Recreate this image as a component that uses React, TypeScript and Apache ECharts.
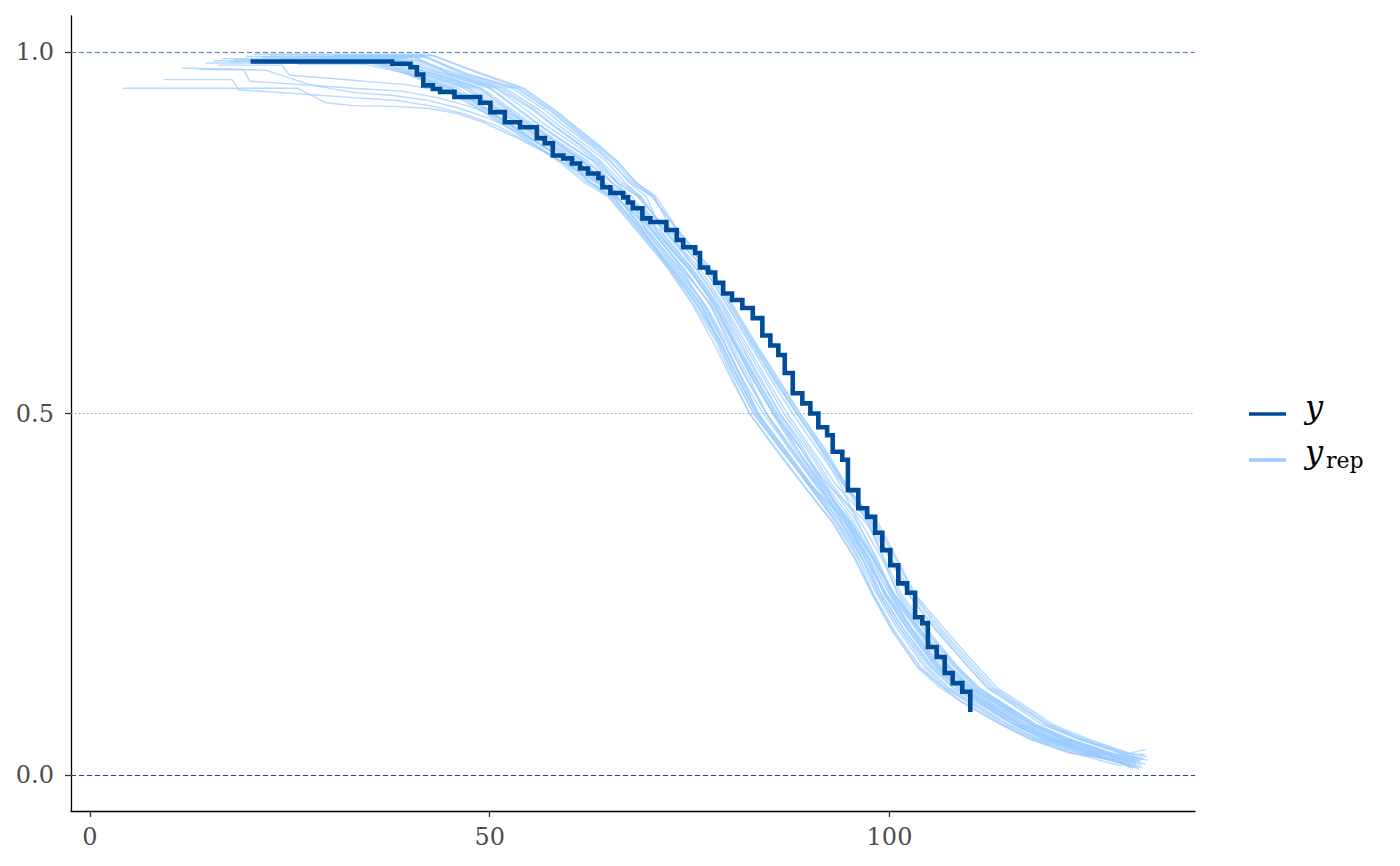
import { useEffect, useRef } from 'react';
import * as echarts from 'echarts';

// ---- data ----
const xTicks = [0, 50, 100];
const yTicks = [0, 0.5, 1];
const refLines = [1, 0.5, 0];

// observed Kaplan-Meier curve: [time, survival after the drop]
const observed: [number, number][] = [
  [20.1, 0.987], [37.8, 0.984], [40.1, 0.979], [40.9, 0.969], [41.7, 0.954], [42.9, 0.949],
  [43.8, 0.945], [45.6, 0.938], [48.8, 0.930], [50.1, 0.917], [51.9, 0.903], [53.8, 0.896],
  [55.9, 0.881], [56.9, 0.874], [57.9, 0.857], [59.2, 0.853], [60.3, 0.846], [61.3, 0.839],
  [62.3, 0.832], [63.6, 0.826], [64.1, 0.813], [65.1, 0.805], [66.7, 0.799], [67.3, 0.792],
  [67.9, 0.784], [69.1, 0.770], [70.1, 0.765], [72.1, 0.754], [73.4, 0.740], [74.2, 0.730],
  [75.7, 0.722], [76.3, 0.702], [77.3, 0.695], [78.2, 0.681], [79.2, 0.666], [80.3, 0.657],
  [81.6, 0.646], [82.9, 0.632], [84.1, 0.608], [85.1, 0.594], [86.1, 0.581], [86.9, 0.556],
  [87.9, 0.528], [89.1, 0.514], [90.1, 0.500], [91.1, 0.481], [92.2, 0.470], [92.9, 0.447],
  [94.1, 0.436], [94.8, 0.394], [96.1, 0.369], [97.2, 0.357], [98.2, 0.335], [99.1, 0.311],
  [100.1, 0.290], [101.1, 0.265], [102.2, 0.252], [103.2, 0.218], [104.1, 0.210], [104.8, 0.177],
  [105.9, 0.163], [106.9, 0.141], [107.9, 0.127], [109.1, 0.115], [110.1, 0.104], [110.1, 0.087],
];

// replicated curves: survival levels and the time each replicate passes them
const repLevels = [0.97, 0.95, 0.92, 0.9, 0.87, 0.85, 0.82, 0.8, 0.75, 0.7, 0.65, 0.6, 0.55,
  0.5, 0.45, 0.4, 0.35, 0.3, 0.25, 0.2, 0.15, 0.12, 0.1, 0.07, 0.05, 0.03];

// [first time, first survival, end of the first flat part]
const repStarts: [number, number, number][] = [
  [25.5, 0.988, 35.0], [18.0, 0.990, 36.5], [28.0, 0.987, 38.0], [21.5, 0.993, 40.5],
  [30.5, 0.995, 43.0], [23.0, 0.986, 37.5], [16.5, 0.991, 39.5], [27.0, 0.989, 35.5],
  [19.5, 0.994, 42.0], [24.5, 0.990, 39.0], [29.0, 0.992, 40.0], [14.5, 0.985, 36.0],
  [22.5, 0.996, 41.5], [26.0, 0.983, 34.5], [31.0, 0.988, 38.5], [20.5, 0.997, 42.5],
  [17.5, 0.987, 39.0], [25.0, 0.985, 35.0], [23.8, 0.991, 38.0], [28.5, 0.989, 41.0],
  [15.5, 0.988, 35.5], [26.5, 0.994, 40.5], [21.0, 0.986, 38.5], [30.0, 0.993, 42.0],
];

const repTimes: number[][] = [
  [39.5, 44.0, 48.8, 51.6, 55.8, 58.5, 61.8, 64.8, 68.6, 72.4, 75.6, 78.3, 80.3, 82.5, 85.9, 89.3, 92.8, 95.6, 97.8, 100.3, 103.4, 106.4, 109.3, 113.9, 117.4, 122.5],
  [41.0, 46.0, 50.0, 52.5, 56.8, 59.5, 62.5, 65.0, 68.8, 72.6, 75.9, 78.5, 80.6, 83.0, 86.5, 90.0, 93.5, 96.5, 98.6, 101.5, 105.0, 108.0, 111.0, 115.5, 119.0, 124.5],
  [43.0, 48.5, 52.5, 55.0, 59.0, 61.5, 64.2, 66.5, 69.9, 73.8, 76.9, 79.3, 81.5, 83.6, 86.8, 90.0, 93.2, 96.0, 98.0, 100.6, 103.8, 106.9, 109.9, 114.2, 117.9, 123.0],
  [45.5, 51.5, 55.7, 57.9, 61.6, 63.8, 66.5, 69.0, 72.0, 75.8, 78.9, 81.3, 83.8, 86.3, 89.7, 92.6, 95.9, 98.4, 100.5, 103.6, 107.2, 110.0, 113.0, 117.0, 121.0, 126.5],
  [48.8, 54.0, 58.0, 60.2, 63.6, 65.8, 68.3, 70.8, 73.8, 77.6, 80.3, 83.0, 85.8, 88.8, 91.8, 94.5, 97.8, 100.0, 102.3, 105.8, 109.8, 112.2, 115.0, 119.0, 123.5, 128.8],
  [42.2, 47.5, 51.5, 54.0, 58.2, 61.0, 63.9, 66.8, 70.4, 74.3, 77.6, 79.8, 82.1, 84.6, 87.8, 91.1, 94.5, 97.3, 99.4, 102.4, 105.8, 108.6, 111.6, 115.9, 119.7, 125.0],
  [44.4, 50.2, 53.8, 56.2, 60.2, 63.0, 65.8, 68.5, 72.6, 76.9, 79.7, 82.5, 85.3, 88.4, 91.5, 94.6, 98.2, 100.7, 103.0, 106.6, 110.6, 113.1, 115.9, 120.0, 124.2, 129.6],
  [40.4, 45.4, 49.8, 52.4, 56.7, 59.5, 62.6, 65.6, 70.7, 74.8, 78.2, 80.4, 82.9, 85.4, 88.5, 91.7, 95.1, 97.9, 100.5, 104.0, 108.0, 110.8, 113.7, 117.8, 121.8, 127.2],
  [47.0, 53.3, 57.4, 59.6, 63.0, 65.1, 67.4, 69.6, 71.6, 75.3, 78.5, 80.8, 83.3, 85.8, 88.5, 91.4, 94.0, 96.6, 98.7, 101.4, 104.6, 107.5, 110.5, 114.8, 118.5, 123.8],
  [43.6, 49.0, 52.9, 55.4, 59.4, 62.2, 65.1, 67.8, 71.2, 75.1, 78.3, 80.6, 83.1, 85.6, 89.0, 92.1, 95.5, 98.1, 100.3, 103.4, 107.1, 109.8, 112.6, 116.9, 120.8, 126.0],
  [45.0, 51.0, 55.4, 57.7, 61.4, 63.6, 65.9, 67.3, 69.7, 73.4, 76.5, 79.2, 81.3, 83.6, 86.9, 90.3, 94.4, 97.3, 99.6, 102.7, 106.1, 109.0, 111.8, 116.1, 120.1, 125.3],
  [41.5, 46.8, 50.9, 53.5, 57.6, 60.5, 63.8, 67.0, 72.3, 76.3, 79.3, 81.9, 84.5, 87.2, 90.3, 93.4, 97.6, 100.1, 102.4, 106.0, 109.8, 112.5, 115.3, 119.5, 123.6, 129.0],
  [46.5, 52.8, 56.9, 59.1, 62.7, 64.9, 67.6, 70.3, 73.8, 77.7, 80.4, 83.1, 86.0, 88.8, 92.0, 94.7, 97.4, 99.3, 101.5, 104.8, 108.5, 111.3, 114.0, 118.2, 122.4, 127.7],
  [39.8, 44.5, 49.0, 51.9, 56.0, 58.8, 62.2, 65.2, 69.1, 72.9, 76.0, 78.8, 81.0, 83.3, 86.6, 90.0, 94.0, 96.9, 99.6, 103.0, 106.7, 109.6, 112.5, 116.7, 120.6, 126.2],
  [42.6, 48.0, 52.0, 54.4, 58.6, 61.4, 64.5, 67.3, 71.5, 75.4, 78.6, 81.1, 83.6, 86.3, 89.3, 92.0, 94.6, 97.0, 98.9, 101.8, 105.2, 108.1, 111.0, 115.3, 119.1, 124.2],
  [49.2, 54.3, 58.2, 60.4, 63.8, 65.9, 68.2, 70.6, 72.9, 76.8, 79.7, 82.3, 85.0, 87.9, 91.0, 94.3, 98.5, 100.9, 103.2, 107.0, 111.0, 113.5, 116.3, 120.4, 124.7, 130.0],
  [44.2, 50.0, 53.6, 56.0, 60.0, 62.8, 65.3, 67.2, 70.5, 74.3, 77.6, 80.0, 82.4, 84.6, 87.9, 91.3, 95.0, 97.8, 100.0, 103.7, 107.5, 110.3, 113.2, 117.4, 121.4, 126.8],
  [40.0, 45.0, 49.4, 52.3, 56.6, 59.6, 63.4, 66.9, 73.2, 77.3, 80.0, 82.8, 85.6, 88.5, 91.6, 94.4, 97.2, 99.2, 101.0, 103.9, 107.3, 110.2, 113.3, 117.6, 121.9, 127.5],
  [41.8, 47.2, 51.2, 53.8, 57.9, 60.8, 64.0, 66.9, 71.0, 75.0, 78.0, 80.5, 83.2, 86.0, 89.0, 91.8, 94.8, 97.3, 99.3, 102.3, 105.7, 108.6, 111.4, 115.6, 119.4, 124.8],
  [46.0, 52.0, 56.2, 58.5, 62.1, 64.5, 66.9, 68.8, 71.0, 74.9, 78.2, 80.5, 82.7, 85.5, 89.0, 92.4, 97.0, 100.2, 102.8, 106.3, 110.2, 112.8, 115.6, 119.7, 123.9, 129.3],
  [40.3, 45.2, 49.7, 52.6, 56.6, 59.4, 62.6, 65.4, 69.3, 73.1, 76.3, 78.9, 81.0, 83.3, 86.6, 89.9, 93.4, 96.2, 98.4, 101.1, 104.3, 107.2, 110.2, 114.6, 118.3, 123.6],
  [44.9, 50.8, 54.6, 56.9, 60.9, 63.3, 66.1, 68.7, 72.2, 75.9, 79.1, 81.6, 84.2, 86.8, 90.0, 92.9, 96.4, 99.0, 101.2, 104.5, 108.2, 110.9, 113.8, 118.0, 122.0, 127.3],
  [43.1, 48.8, 52.3, 54.9, 59.0, 61.8, 64.0, 65.5, 69.0, 72.8, 76.5, 78.6, 80.7, 83.0, 86.4, 90.2, 94.8, 97.9, 100.6, 104.4, 108.4, 111.1, 114.1, 118.3, 122.5, 127.9],
  [47.2, 53.6, 57.7, 59.9, 63.3, 65.5, 67.9, 70.4, 73.6, 77.2, 80.1, 82.7, 85.5, 88.4, 91.4, 93.9, 96.0, 98.3, 100.2, 102.9, 106.3, 109.2, 112.1, 116.2, 120.1, 125.6],
];

// [last time, last survival]
const repEnds: [number, number][] = [
  [128.5, 0.020], [130.0, 0.015], [129.0, 0.012], [131.0, 0.018], [131.8, 0.022], [130.5, 0.010],
  [132.2, 0.025], [131.5, 0.014], [129.5, 0.020], [130.8, 0.016], [131.2, 0.008], [132.3, 0.020],
  [131.0, 0.024], [130.2, 0.018], [129.8, 0.013], [132.0, 0.035], [131.6, 0.010], [130.6, 0.022],
  [130.2, 0.012], [131.9, 0.028], [129.2, 0.016], [131.3, 0.019], [131.7, 0.021], [130.4, 0.009],
];

// replicates that start early and run along the lower edge
const repLowA: [number, number][] = [
  [4.1, 0.950], [26.0, 0.950], [29.5, 0.930], [33.0, 0.926], [38.0, 0.925], [42.5, 0.922], [46.0, 0.915],
  [49.2, 0.903], [53.3, 0.882], [57.6, 0.857], [61.7, 0.832], [65.1, 0.812], [68.5, 0.765], [72.0, 0.705],
  [75.3, 0.652], [77.9, 0.600], [80.2, 0.548], [82.5, 0.500], [86.0, 0.447], [89.4, 0.398], [92.9, 0.350],
  [95.7, 0.300], [97.9, 0.250], [100.4, 0.200], [103.5, 0.150], [108.8, 0.102], [113.9, 0.070],
  [117.6, 0.050], [122.8, 0.030], [129.8, 0.018],
];
const repLowB: [number, number][] = [
  [9.2, 0.962], [17.8, 0.962], [18.6, 0.948], [33.0, 0.937], [38.5, 0.933], [43.0, 0.925], [47.0, 0.914],
  [51.0, 0.898], [55.0, 0.874], [58.8, 0.850], [62.5, 0.825], [66.0, 0.800], [69.0, 0.755], [72.6, 0.700],
  [76.0, 0.650], [78.8, 0.600], [81.0, 0.550], [83.5, 0.500], [87.0, 0.450], [90.3, 0.400], [93.8, 0.350],
  [96.6, 0.300], [99.0, 0.250], [101.9, 0.200], [105.4, 0.150], [108.5, 0.120], [111.4, 0.100],
  [115.6, 0.070], [119.6, 0.050], [125.0, 0.030], [131.0, 0.012],
];
const repLowC: [number, number][] = [
  [13.7, 0.976], [19.2, 0.976], [20.0, 0.960], [33.0, 0.950], [39.0, 0.946], [43.5, 0.937], [47.5, 0.925],
  [51.5, 0.908], [55.0, 0.886], [58.5, 0.862], [62.0, 0.836], [65.5, 0.805], [69.5, 0.752], [73.4, 0.700],
  [77.0, 0.650], [79.6, 0.600], [82.0, 0.550], [84.6, 0.500], [87.5, 0.450], [91.0, 0.400], [94.8, 0.350],
  [97.5, 0.300], [100.0, 0.250], [102.8, 0.200], [106.3, 0.150], [109.2, 0.120], [112.0, 0.100],
  [116.4, 0.070], [120.3, 0.050], [125.8, 0.030], [131.5, 0.020],
];
const repLowD: [number, number][] = [
  [16.1, 0.982], [24.0, 0.982], [25.0, 0.968], [33.0, 0.961], [39.5, 0.955], [44.5, 0.945], [48.5, 0.932],
  [52.5, 0.915], [56.0, 0.893], [59.5, 0.866], [63.0, 0.840], [66.4, 0.810], [70.0, 0.760], [74.0, 0.700],
  [77.8, 0.650], [80.3, 0.600], [82.8, 0.550], [85.4, 0.500], [88.2, 0.450], [91.6, 0.400], [95.2, 0.350],
  [98.0, 0.300], [100.6, 0.250], [103.8, 0.200], [107.6, 0.150], [110.5, 0.120], [113.4, 0.100],
  [117.7, 0.070], [121.6, 0.050], [126.8, 0.030], [132.0, 0.015],
];
const repLowE: [number, number][] = [
  [11.5, 0.978], [22.0, 0.975], [27.5, 0.955], [33.0, 0.944], [38.0, 0.940], [42.0, 0.934], [46.0, 0.923],
  [50.0, 0.908], [54.0, 0.887], [57.5, 0.864], [61.0, 0.840], [64.2, 0.815], [67.8, 0.780], [70.8, 0.740],
  [74.5, 0.690], [77.3, 0.640], [79.2, 0.600], [81.5, 0.550], [84.2, 0.500], [87.6, 0.450], [90.8, 0.400],
  [94.3, 0.350], [97.0, 0.300], [99.4, 0.250], [102.5, 0.200], [106.0, 0.150], [109.0, 0.120],
  [112.2, 0.100], [116.3, 0.070], [120.0, 0.050], [125.5, 0.030], [131.2, 0.010],
];
const repLowCurves = [repLowA, repLowB, repLowC, repLowD, repLowE];

// ---- styling ----
const DARK = '#004c99';
const LIGHT = '#99cbff';
const SERIF = "'DejaVu Serif', serif";

function buildOption(): echarts.EChartsCoreOption {
  const repCurves: [number, number][][] = repTimes.map((times, i) => {
    const [t0, s0, tFlat] = repStarts[i];
    const pts: [number, number][] = [[t0, s0], [tFlat, s0]];
    times.forEach((t, j) => pts.push([t, repLevels[j]]));
    pts.push(repEnds[i]);
    return pts;
  });
  const allReps = [...repLowCurves, ...repCurves];

  const repSeries = allReps.map((pts) => ({
    type: 'line',
    name: 'y_rep',
    data: pts,
    showSymbol: false,
    symbol: 'none',
    silent: true,
    z: 2,
    lineStyle: { color: LIGHT, width: 1.4, opacity: 0.72 },
    itemStyle: { color: LIGHT },
    emphasis: { disabled: true },
  }));

  const refStyles: Record<number, object> = {
    1: { color: '#4a80c0', width: 1.2, type: [5, 3] },
    0.5: { color: '#8aa2c4', width: 1, type: [1.5, 2.5] },
    0: { color: '#1a4c8c', width: 1.2, type: [5, 3] },
  };

  // legend drawn as graphic: key lines and math-style labels
  const legendGraphic = [
    { type: 'line', shape: { x1: 1249, y1: 414, x2: 1286, y2: 414 }, style: { stroke: DARK, lineWidth: 3.5 }, silent: true },
    { type: 'line', shape: { x1: 1249, y1: 460, x2: 1286, y2: 460 }, style: { stroke: LIGHT, lineWidth: 3.5 }, silent: true },
    {
      type: 'text', x: 1305, y: 407, silent: true,
      style: { text: 'y', fill: '#000', font: `italic 32px ${SERIF}`, align: 'left', verticalAlign: 'middle' },
    },
    {
      type: 'text', x: 1305, y: 452, silent: true,
      style: { text: 'y', fill: '#000', font: `italic 32px ${SERIF}`, align: 'left', verticalAlign: 'middle' },
    },
    {
      type: 'text', x: 1326, y: 460.5, silent: true,
      style: { text: 'rep', fill: '#000', font: `22px ${SERIF}`, align: 'left', verticalAlign: 'middle' },
    },
  ];

  return {
    animation: false,
    backgroundColor: '#ffffff',
    grid: { left: 71, right: 205, top: 16, bottom: 55, containLabel: false },
    xAxis: {
      type: 'value',
      min: -2.35,
      max: 138.2,
      splitLine: { show: false },
      axisLine: { show: true, onZero: false, lineStyle: { color: '#000', width: 1.3 } },
      axisTick: { show: true, customValues: xTicks, length: 6, lineStyle: { color: '#333', width: 1.3 } },
      axisLabel: {
        customValues: xTicks,
        margin: 14,
        color: '#4d4d4d',
        fontFamily: SERIF,
        fontSize: 24,
        formatter: (v: number) => String(v),
      },
    },
    yAxis: {
      type: 'value',
      min: -0.05,
      max: 1.05,
      splitLine: { show: false },
      axisLine: { show: true, onZero: false, lineStyle: { color: '#000', width: 1.3 } },
      axisTick: { show: true, customValues: yTicks, length: 6, lineStyle: { color: '#333', width: 1.3 } },
      axisLabel: {
        customValues: yTicks,
        margin: 17,
        color: '#4d4d4d',
        fontFamily: SERIF,
        fontSize: 24,
        formatter: (v: number) => v.toFixed(1),
      },
    },
    graphic: legendGraphic,
    series: [
      ...repSeries,
      {
        type: 'line',
        name: 'y',
        data: observed,
        step: 'end',
        showSymbol: false,
        symbol: 'none',
        silent: true,
        z: 4,
        lineStyle: { color: DARK, width: 4.6, cap: 'butt', join: 'miter' },
        itemStyle: { color: DARK },
        emphasis: { disabled: true },
        markLine: {
          silent: true,
          symbol: 'none',
          label: { show: false },
          z: 1,
          data: refLines.map((v) => ({ yAxis: v, lineStyle: refStyles[v] })),
        },
      },
    ],
  };
}

export default function App() {
  const ref = useRef<HTMLDivElement>(null);
  useEffect(() => {
    document.body.style.margin = '0';
    if (!ref.current) return;
    const chart = echarts.init(ref.current, undefined, { renderer: 'svg', width: 1400, height: 866 });
    chart.setOption(buildOption());
    return () => chart.dispose();
  }, []);
  return (
    <div
      ref={ref}
      style={{ position: 'fixed', left: 0, top: 0, width: 1400, height: 866, background: '#fff' }}
    />
  );
}
